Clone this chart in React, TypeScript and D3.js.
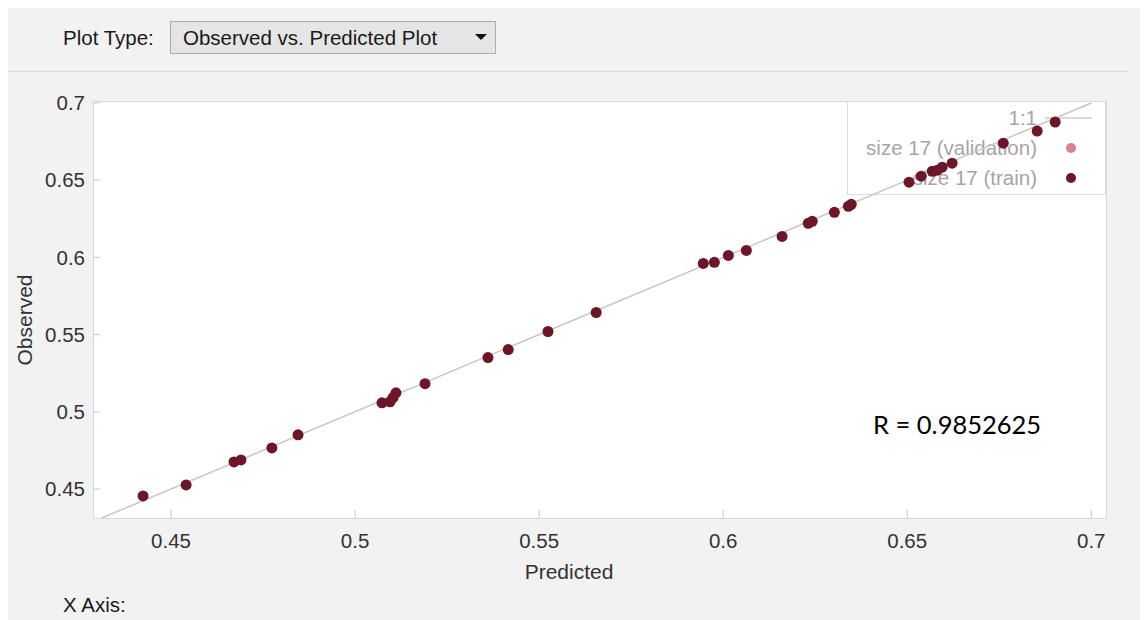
import React from "react";
import * as d3 from "d3";

const predicted = [
  0.4424, 0.4541, 0.4671, 0.469, 0.4774, 0.4845,
  0.5073, 0.5095, 0.5103, 0.5111,
  0.519, 0.5361, 0.5416, 0.5524, 0.5655,
  0.5946, 0.5976, 0.6014, 0.6063, 0.616, 0.6231, 0.6242,
  0.6302, 0.634, 0.6348,
  0.6505, 0.6538, 0.6568, 0.6582, 0.6595, 0.6622, 0.6761, 0.6853, 0.6902,
];
const observed = [
  0.4455, 0.4526, 0.4675, 0.4688, 0.4766, 0.4851,
  0.5058, 0.5065, 0.5091, 0.5123,
  0.5182, 0.5351, 0.5403, 0.552, 0.5643,
  0.5961, 0.5968, 0.6013, 0.6045, 0.6136, 0.6221, 0.6234,
  0.6292, 0.6331, 0.6344,
  0.6487, 0.6526, 0.6558, 0.6565, 0.6584, 0.661, 0.674, 0.6818, 0.6877,
];
const xTicks = [0.45, 0.5, 0.55, 0.6, 0.65, 0.7];
const yTicks = [0.45, 0.5, 0.55, 0.6, 0.65, 0.7];
const legendLabels = ["1:1", "size 17 (validation)", "size 17 (train)"];
const rText = "R = 0.9852625";

const W = 1144;
const H = 620;
const P = { left: 93, right: 1106, top: 101, bottom: 518 };
const UI_FONT = "'Liberation Sans', Arial, sans-serif";
const FS = 20.5;
const TRAIN = "#6d1628";
const VALID = "#d9808d";

export default function App() {
  const x = d3.scaleLinear().domain([0.4288, 0.704]).range([P.left, P.right]);
  const y = d3.scaleLinear().domain([0.4312, 0.7013]).range([P.bottom, P.top]);
  const lo = Math.max(x.domain()[0], y.domain()[0]);
  const hi = 0.7;
  const fmt = d3.format("");

  return (
    <>
      <style>{"body{margin:0}"}</style>
      <svg width={W} height={H} style={{ display: "block" }} fontFamily={UI_FONT}>
        <rect x={0} y={0} width={W} height={H} fill="#ffffff" />
        <rect x={8} y={8} width={1132} height={H - 8} fill="#f2f2f2" />

        {/* toolbar */}
        <text x={63} y={45} fontSize={FS} fill="#1a1a1a">Plot Type:</text>
        <rect x={170.5} y={21.5} width={325} height={32} fill="#e5e5e5" stroke="#adadad" />
        <text x={183} y={45} fontSize={FS} fill="#1a1a1a">Observed vs. Predicted Plot</text>
        <path d="M475,34 L487,34 L481,40 Z" fill="#111" />
        <line x1={8} x2={1128} y1={71.5} y2={71.5} stroke="#dcdcdc" strokeWidth={1.5} />

        {/* plot area */}
        <rect x={P.left + 0.5} y={P.top + 0.5} width={P.right - P.left} height={P.bottom - P.top} fill="#fff" stroke="#d9d9d9" />

        {yTicks.map((t) => (
          <g key={"y" + t}>
            <line x1={P.left} x2={P.left + 7} y1={y(t)} y2={y(t)} stroke="#c8c8c8" />
            <text x={85} y={y(t)} dy="0.35em" textAnchor="end" fontSize={FS} fill="#333">{fmt(t)}</text>
          </g>
        ))}
        {xTicks.map((t) => (
          <g key={"x" + t}>
            <line x1={x(t)} x2={x(t)} y1={P.bottom} y2={P.bottom - 8} stroke="#c8c8c8" />
            <text x={x(t)} y={548} textAnchor="middle" fontSize={FS} fill="#333">{fmt(t)}</text>
          </g>
        ))}

        <text x={569} y={579} textAnchor="middle" fontSize={21} fill="#333">Predicted</text>
        <text transform="translate(32,320) rotate(-90)" textAnchor="middle" fontSize={21} fill="#333">Observed</text>
        <text x={63} y={612} fontSize={FS} fill="#1a1a1a">X Axis:</text>

        {/* legend */}
        <rect x={847.5} y={P.top + 0.5} width={P.right - 848} height={93} fill="#fff" stroke="#dcdcdc" />
        <text x={1037} y={118} dy="0.35em" textAnchor="end" fontSize={FS} fill="#a8a4a4">{legendLabels[0]}</text>
        <line x1={1045} x2={1092} y1={118} y2={118} stroke="#cccccc" strokeWidth={1.5} />
        <text x={1037} y={148} dy="0.35em" textAnchor="end" fontSize={FS} fill="#a8a4a4">{legendLabels[1]}</text>
        <circle cx={1071} cy={148} r={5} fill={VALID} />
        <text x={1037} y={178} dy="0.35em" textAnchor="end" fontSize={FS} fill="#a8a4a4">{legendLabels[2]}</text>
        <circle cx={1071} cy={178} r={5} fill={TRAIN} />

        {/* 1:1 line */}
        <line x1={x(lo)} y1={y(lo)} x2={x(hi)} y2={y(hi)} stroke="#c8c8c8" strokeWidth={1.5} />

        {predicted.map((p, i) => (
          <circle key={i} cx={x(p)} cy={y(observed[i])} r={5.5} fill={TRAIN} />
        ))}

        <text x={873} y={434} fontSize={25.5} fill="#000" fontFamily="Lato, 'Open Sans', sans-serif">{rText}</text>
      </svg>
    </>
  );
}
